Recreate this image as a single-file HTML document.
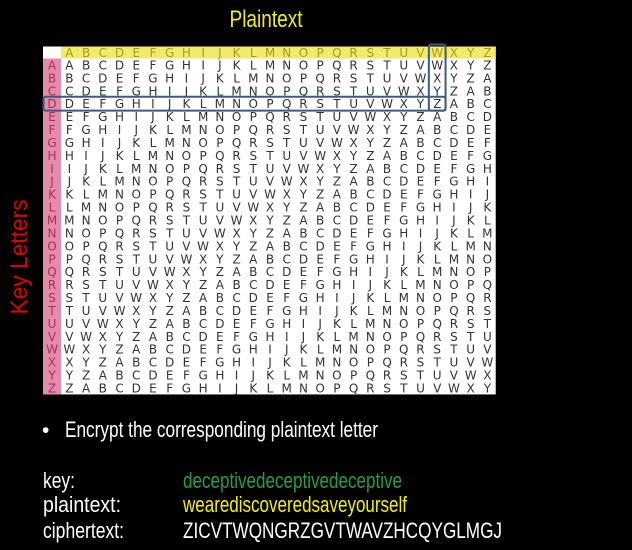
<!DOCTYPE html>
<html><head><meta charset="utf-8"><style>
html,body{margin:0;padding:0;background:#000;}
svg{display:block;}
text{font-family:"Liberation Sans",Arial,sans-serif;}
.cell{font-family:"DejaVu Sans",sans-serif;font-size:12px;}
</style></head><body>
<svg id="s" width="632" height="550" viewBox="0 0 632 550">
<rect width="632" height="550" fill="#000"/>
<text x="266" y="27" fill="#f5f000" font-size="24" text-anchor="middle" textLength="73" lengthAdjust="spacingAndGlyphs">Plaintext</text>
<text transform="translate(27,257) rotate(-90)" fill="#e00000" font-size="24" text-anchor="middle" textLength="115" lengthAdjust="spacingAndGlyphs">Key Letters</text>
<g id="table"></g>
<text x="42" y="437" fill="#fff" font-size="21">•</text>
<text x="65" y="437" fill="#fff" font-size="22" textLength="313" lengthAdjust="spacingAndGlyphs">Encrypt the corresponding plaintext letter</text>
<text x="43" y="488" fill="#fff" font-size="22" textLength="32" lengthAdjust="spacingAndGlyphs">key:</text>
<text x="183" y="488" fill="#1fa046" font-size="22" textLength="219" lengthAdjust="spacingAndGlyphs">deceptivedeceptivedeceptive</text>
<text x="43" y="512" fill="#fff" font-size="22" textLength="78" lengthAdjust="spacingAndGlyphs">plaintext:</text>
<text x="183" y="512" fill="#f5f000" font-size="22" textLength="224" lengthAdjust="spacingAndGlyphs">wearediscoveredsaveyourself</text>
<text x="43" y="538" fill="#fff" font-size="22" textLength="81" lengthAdjust="spacingAndGlyphs">ciphertext:</text>
<text x="183" y="538" fill="#fff" font-size="22" textLength="319" lengthAdjust="spacingAndGlyphs">ZICVTWQNGRZGVTWAVZHCQYGLMGJ</text>
</svg>
<script>
const letters = "ABCDEFGHIJKLMNOPQRSTUVWXYZ".split("");
const highlightRow = 3;
const highlightCol = 22;
const NS="http://www.w3.org/2000/svg";
const g=document.getElementById('table');
const X0=43, KW=18, CX0=61, CW=16.72, HY0=46.5, HH=12, RY0=58.5, RH=12.92;
const N=letters.length;
function colX(i){return CX0+i*CW;}
function rowY(j){return RY0+j*RH;}
function mk(tag,attrs){const e=document.createElementNS(NS,tag);for(const k in attrs)e.setAttribute(k,attrs[k]);g.appendChild(e);return e;}
let e=mk('rect',{x:X0,y:HY0,width:CX0-X0+N*CW,height:RY0-HY0+N*RH,fill:'#fff'});


e=mk('rect',{x:CX0,y:HY0,width:N*CW,height:RY0-HY0,fill:'#f2ea6e'});


e=mk('rect',{x:X0,y:RY0,width:KW,height:N*RH,fill:'#e48aab'});


letters.forEach((L,i)=>{
  const t=mk('text',{x:colX(i)+CW/2,y:HY0+HH/2+4.5,'text-anchor':'middle',fill:'#a89c1e',class:'cell'});
  t.textContent=L;
  
  
  const k=mk('text',{x:X0+KW/2,y:rowY(i)+RH/2+4.5,'text-anchor':'middle',fill:'#a8305e',class:'cell'});
  k.textContent=L;
  
  
});
for(let r=0;r<N;r++){for(let c=0;c<N;c++){
  const t=mk('text',{x:colX(c)+CW/2,y:rowY(r)+RH/2+4.5,'text-anchor':'middle',fill:'#333',class:'cell'});
  t.textContent=letters[(r+c)%N];
  
  
}}
e=mk('rect',{x:X0+0.5,y:rowY(highlightRow)-0.5,width:colX(highlightCol+1)-X0-0.5,height:RH+1,fill:'none',stroke:'#3c5a82','stroke-width':2,rx:2});


e=mk('rect',{x:colX(highlightCol),y:HY0-2,width:CW,height:rowY(highlightRow+1)-HY0+2.5,fill:'none',stroke:'#3c5a82','stroke-width':2,rx:2});


</script>
</body></html>
